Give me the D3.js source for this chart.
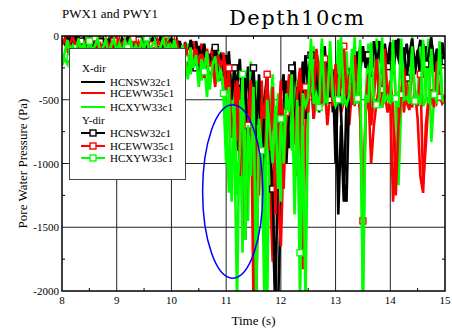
<!DOCTYPE html>
<html>
<head>
<meta charset="utf-8">
<script src="https://cdn.jsdelivr.net/npm/d3@7"></script>
<style>
  body { margin: 0; background: #fff; }
  svg { display: block; }
</style>
</head>
<body>
<div id="chart"></div>
<script>
// sampling: t = 8 + i * 0.05 s
const tStart = 8, tStep = 0.05;

// X-dir (plain lines)
const xBlack = [
  -20, -60, -10, -90, -30, -70, -5, -110, -40, -80,
  -15, -95, -35, -60, -10, -120, -50, -25, -85, -45,
  -10, -70, -30, -100, -55, -15, -90, -40, -65, -20,
  -80, -35, -110, -50, -10, -75, -130, -40, -90, -25,
  -60, -140, -30, -95, -180, -50, -120, -70, -200, -40,
  -150, -260, -90, -210, -320, -120, -280, -180, -350, -240,
  -150, -420, -700, -260, -900, -380, -1100, -500, -240, -750,
  -400, -1000, -300, -650, -1250, -450, -800, -1500, -2100, -2100,
  -1300, -600, -350, -880, -420, -200, -700, -300, -550, -150,
  -400, -250, -650, -120, -300, -500, -80, -350, -200, -600,
  -350, -1400, -700, -1300, -500, -250, -450, -150, -300, -80,
  -200, -120, -350, -60, -250, -150, -40, -300, -100, -200,
  -50, -280, -130, -20, -330, -180, -60, -240, -100, -300,
  -150, -30, -220, -80, -260, -40, -180, -320, -90, -200,
  -140
];
const xRed = [
  -40, -10, -80, -30, -120, -20, -60, -100, -15, -70,
  -90, -30, -55, -130, -20, -75, -40, -110, -10, -60,
  -85, -25, -120, -45, -70, -15, -100, -55, -30, -90,
  -40, -125, -20, -80, -60, -140, -35, -95, -15, -110,
  -70, -30, -150, -60, -100, -210, -80, -160, -40, -230,
  -120, -60, -280, -150, -200, -90, -310, -170, -250, -130,
  -300, -180, -550, -240, -820, -400, -650, -300, -1000, -500,
  -1400, -2100, -700, -350, -900, -500, -1150, -1770, -600, -1300,
  -1650, -900, -450, -750, -300, -600, -1100, -400, -1830, -700,
  -500, -300, -650, -420, -200, -550, -380, -700, -450, -260,
  -480, -350, -600, -520, -250, -700, -420, -550, -300, -650,
  -1500, -600, -450, -1000, -700, -520, -380, -560, -450, -600,
  -480, -1300, -900, -520, -400, -600, -350, -500, -560, -420,
  -650, -1100, -1230, -700, -480, -540, -400, -520, -460, -530,
  -500
];
const xGreen = [
  -230, -180, -220, -60, -140, -20, -100, -50, -130, -10,
  -70, -120, -30, -90, -140, -20, -110, -60, -10, -100,
  -50, -130, -20, -80, -150, -40, -100, -10, -120, -70,
  -20, -110, -60, -140, -30, -90, -160, -50, -120, -10,
  -80, -150, -40, -200, -100, -240, -60, -300, -180, -220,
  -120, -350, -200, -480, -150, -260, -380, -100, -300, -220,
  -600, -1230, -300, -800, -2100, -500, -1700, -400, -1450, -200,
  -700, -350, -900, -500, -1200, -2100, -600, -300, -800, -450,
  -1300, -500, -700, -400, -900, -550, -350, -2100, -600, -2100,
  -500, -420, -80, -550, -460, -20, -520, -480, -100, -540,
  -470, -30, -560, -500, -120, -520, -440, -10, -530, -480,
  -2100, -500, -60, -540, -470, -20, -510, -560, -150, -490,
  -520, -30, -480, -1170, -540, -100, -500, -470, -10, -530,
  -480, -80, -550, -500, -20, -830, -490, -520, -60, -500,
  -480
];

// Y-dir (lines with square markers)
const yBlack = [
  -10, -50, -90, -20, -70, -5, -100, -40, -15, -60,
  -30, -80, -10, -110, -45, -20, -90, -60, -5, -75,
  -40, -100, -20, -65, -10, -85, -50, -120, -30, -70,
  -15, -95, -45, -20, -110, -60, -10, -80, -135, -50,
  -20, -90, -160, -40, -110, -70, -190, -30, -130, -250,
  -80, -170, -60, -230, -140, -300, -90, -200, -150, -270,
  -350, -120, -500, -250, -400, -180, -600, -300, -900, -420,
  -250, -700, -350, -1100, -500, -300, -850, -1200, -2100, -900,
  -450, -300, -1000, -600, -250, -800, -400, -550, -200, -650,
  -300, -150, -450, -250, -600, -100, -350, -200, -500, -280,
  -1000, -300, -600, -1150, -1300, -400, -200, -350, -120, -280,
  -80, -250, -150, -320, -40, -200, -100, -280, -60, -240,
  -120, -300, -30, -180, -260, -90, -330, -140, -20, -250,
  -110, -350, -60, -220, -150, -10, -280, -100, -300, -50,
  -200
];
const yRed = [
  -70, -20, -110, -50, -5, -90, -35, -130, -60, -25,
  -100, -45, -15, -85, -60, -130, -25, -70, -115, -40,
  -10, -95, -55, -30, -140, -75, -20, -110, -45, -85,
  -60, -15, -100, -70, -145, -35, -80, -20, -105, -55,
  -130, -90, -45, -170, -110, -70, -250, -130, -190, -100,
  -220, -140, -330, -100, -260, -190, -400, -150, -230, -180,
  -450, -250, -800, -600, -350, -1100, -450, -1600, -700, -350,
  -2100, -800, -1250, -500, -650, -300, -900, -400, -1400, -700,
  -350, -1200, -600, -300, -500, -850, -450, -250, -700, -400,
  -600, -200, -450, -100, -350, -520, -180, -480, -300, -550,
  -220, -500, -380, -80, -460, -300, -540, -150, -450, -500,
  -1450, -550, -300, -700, -480, -180, -540, -420, -100, -500,
  -350, -550, -1250, -700, -460, -250, -520, -580, -150, -480,
  -550, -300, -1150, -850, -500, -420, -560, -200, -480, -510,
  -460
];
const yGreen = [
  -200, -130, -30, -170, -80, -150, -20, -120, -60, -140,
  -40, -110, -80, -20, -130, -90, -30, -150, -70, -25,
  -120, -60, -140, -35, -90, -20, -125, -75, -145, -40,
  -100, -15, -135, -70, -40, -150, -85, -20, -130, -60,
  -170, -30, -120, -260, -70, -180, -340, -90, -250, -150,
  -400, -180, -280, -120, -420, -230, -160, -360, -260, -450,
  -1000, -400, -1300, -550, -1250, -900, -300, -1600, -700, -1100,
  -400, -2100, -650, -900, -2100, -500, -750, -1000, -550, -1200,
  -650, -1000, -450, -600, -300, -1400, -500, -1700, -450, -550,
  -480, -20, -530, -460, -560, -60, -500, -520, -40, -470,
  -550, -500, -10, -480, -540, -470, -100, -520, -490, -30,
  -2100, -460, -520, -50, -500, -540, -480, -10, -510, -470,
  -530, -60, -490, -560, -20, -500, -480, -530, -80, -510,
  -470, -540, -30, -490, -520, -100, -460, -510, -40, -500,
  -520
];

const seriesNames = ['HCNSW32c1', 'HCEWW35c1', 'HCXYW33c1'];
const seriesColors = ['#000000', '#ff0000', '#00ff00'];
const xTicks = [8, 9, 10, 11, 12, 13, 14, 15];
const yTicks = [0, -500, -1000, -1500, -2000];
const xMinor = [8.5, 9.5, 10.5, 11.5, 12.5, 13.5, 14.5];
const yMinor = [-250, -750, -1250, -1750];
// blue ellipse annotation: centre (s, Pa) and radii (s, Pa)
const ellipseCentre = [11.12, -1220];
const ellipseRadii = [0.55, 680];

const W = 452, H = 333;
const margin = { left: 62, right: 7, top: 36, bottom: 42 };
const pw = W - margin.left - margin.right;
const ph = H - margin.top - margin.bottom;

const svg = d3.select('#chart').append('svg')
  .attr('width', W).attr('height', H)
  .style('font-family', '"Liberation Serif", "Times New Roman", serif');

const x = d3.scaleLinear().domain([8, 15]).range([margin.left, margin.left + pw]);
const y = d3.scaleLinear().domain([-2000, 0]).range([margin.top + ph, margin.top]);

svg.append('defs').append('clipPath').attr('id', 'plot-clip')
  .append('rect')
  .attr('x', margin.left).attr('y', margin.top)
  .attr('width', pw).attr('height', ph);

// Grid
const grid = svg.append('g');
grid.selectAll('.vg').data(xTicks.slice(1, -1)).enter().append('line')
  .attr('x1', d => x(d)).attr('x2', d => x(d))
  .attr('y1', margin.top).attr('y2', margin.top + ph)
  .attr('stroke', '#222').attr('stroke-width', 1);
grid.selectAll('.hg').data(yTicks.slice(1, -1)).enter().append('line')
  .attr('y1', d => y(d)).attr('y2', d => y(d))
  .attr('x1', margin.left).attr('x2', margin.left + pw)
  .attr('stroke', '#222').attr('stroke-width', 1);

// Minor ticks (inside, all four sides)
const tk = svg.append('g').attr('stroke', '#000').attr('stroke-width', 1);
xMinor.forEach(v => {
  tk.append('line').attr('x1', x(v)).attr('x2', x(v))
    .attr('y1', margin.top + ph).attr('y2', margin.top + ph - 3);
  tk.append('line').attr('x1', x(v)).attr('x2', x(v))
    .attr('y1', margin.top).attr('y2', margin.top + 3);
});
yMinor.forEach(v => {
  tk.append('line').attr('y1', y(v)).attr('y2', y(v))
    .attr('x1', margin.left).attr('x2', margin.left + 3);
  tk.append('line').attr('y1', y(v)).attr('y2', y(v))
    .attr('x1', margin.left + pw).attr('x2', margin.left + pw - 3);
});

// Data
const xSeries = [xBlack, xRed, xGreen];
const ySeries = [yBlack, yRed, yGreen];
const tOf = i => tStart + i * tStep;
const line = d3.line().x((d, i) => x(tOf(i))).y(d => y(d));

const plot = svg.append('g').attr('clip-path', 'url(#plot-clip)');
xSeries.forEach((vals, k) => {
  plot.append('path').datum(vals)
    .attr('fill', 'none').attr('stroke', seriesColors[k])
    .attr('stroke-width', 2.6)
    .attr('d', line);
});
ySeries.forEach((vals, k) => {
  const g = plot.append('g');
  g.append('path').datum(vals)
    .attr('fill', 'none').attr('stroke', seriesColors[k])
    .attr('stroke-width', 2.6)
    .attr('d', line);
  const marks = vals.map((v, i) => ({ t: tOf(i), v, i })).filter(d => (d.i + k * 2) % 7 === 0);
  g.selectAll('rect').data(marks).enter().append('rect')
    .attr('x', d => x(d.t) - 3).attr('y', d => y(d.v) - 3)
    .attr('width', 6).attr('height', 6)
    .attr('fill', '#fff').attr('stroke', seriesColors[k]).attr('stroke-width', 1.4);
});

// Blue ellipse
svg.append('ellipse')
  .attr('cx', x(ellipseCentre[0])).attr('cy', y(ellipseCentre[1]))
  .attr('rx', x(ellipseCentre[0] + ellipseRadii[0]) - x(ellipseCentre[0]))
  .attr('ry', y(ellipseCentre[1]) - y(ellipseCentre[1] + ellipseRadii[1]))
  .attr('fill', 'none').attr('stroke', '#0000ff').attr('stroke-width', 1.5);

// Frame
svg.append('rect')
  .attr('x', margin.left).attr('y', margin.top)
  .attr('width', pw).attr('height', ph)
  .attr('fill', 'none').attr('stroke', '#000').attr('stroke-width', 1.5);

// Tick labels
svg.selectAll('.xl').data(xTicks).enter().append('text')
  .attr('x', d => x(d)).attr('y', margin.top + ph + 13)
  .attr('text-anchor', 'middle').attr('font-size', 11).text(d => d);
svg.selectAll('.yl').data(yTicks).enter().append('text')
  .attr('x', margin.left - 3).attr('y', d => y(d) + 4)
  .attr('text-anchor', 'end').attr('font-size', 11).text(d => d);

// Axis titles
svg.append('text').attr('x', margin.left + pw / 2).attr('y', 325)
  .attr('text-anchor', 'middle').attr('font-size', 13).text('Time (s)');
svg.append('text')
  .attr('transform', `translate(27,${margin.top + ph / 2}) rotate(-90)`)
  .attr('text-anchor', 'middle').attr('font-size', 13).text('Pore Water Pressure (Pa)');

// Titles
svg.append('text').attr('x', 62).attr('y', 18).attr('font-size', 13).text('PWX1 and PWY1');
svg.append('text').attr('x', 229).attr('y', 25)
  .attr('font-family', '"DejaVu Serif", serif').attr('font-size', 21)
  .attr('textLength', 135).text('Depth10cm');

// Legend
const lg = svg.append('g');
lg.append('rect').attr('x', 69.5).attr('y', 48.5).attr('width', 116).attr('height', 131)
  .attr('fill', '#fff').attr('stroke', '#444').attr('stroke-width', 1);
lg.append('text').attr('x', 82).attr('y', 72).attr('font-size', 11).text('X-dir');
lg.append('text').attr('x', 82).attr('y', 124).attr('font-size', 11).text('Y-dir');
const rowX = [82, 93, 107];
const rowY = [133, 146, 158];
seriesNames.forEach((name, k) => {
  lg.append('line').attr('x1', 81).attr('x2', 105).attr('y1', rowX[k]).attr('y2', rowX[k])
    .attr('stroke', seriesColors[k]).attr('stroke-width', 2);
  lg.append('text').attr('x', 110).attr('y', rowX[k] + 4).attr('font-size', 11).text(name);
  lg.append('line').attr('x1', 81).attr('x2', 105).attr('y1', rowY[k]).attr('y2', rowY[k])
    .attr('stroke', seriesColors[k]).attr('stroke-width', 2);
  lg.append('rect').attr('x', 90).attr('y', rowY[k] - 3).attr('width', 6).attr('height', 6)
    .attr('fill', '#fff').attr('stroke', seriesColors[k]).attr('stroke-width', 1.4);
  lg.append('text').attr('x', 110).attr('y', rowY[k] + 4).attr('font-size', 11).text(name);
});
</script>
</body>
</html>
